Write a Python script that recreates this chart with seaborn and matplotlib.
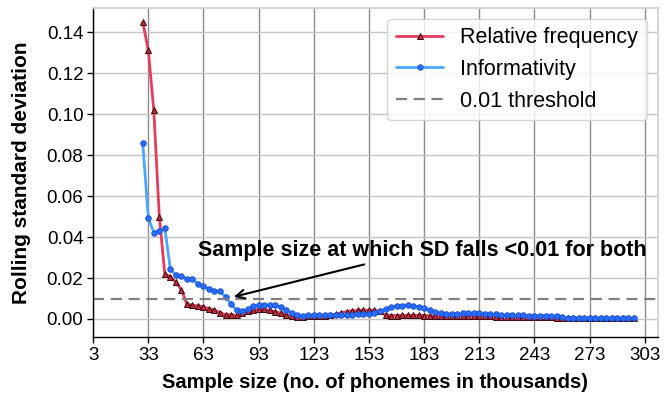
import matplotlib
matplotlib.use("Agg")
import matplotlib.pyplot as plt
import seaborn as sns
import numpy as np
import pandas as pd

sample_size = [30, 33, 36, 39, 42, 45, 48, 51, 54, 57, 60, 63, 66, 69, 72, 75, 78, 81, 84, 87,
               90, 93, 96, 99, 102, 105, 108, 111, 114, 117, 120, 123, 126, 129, 132, 135, 138, 141, 144, 147,
               150, 153, 156, 159, 162, 165, 168, 171, 174, 177, 180, 183, 186, 189, 192, 195, 198, 201, 204, 207,
               210, 213, 216, 219, 222, 225, 228, 231, 234, 237, 240, 243, 246, 249, 252, 255, 258, 261, 264, 267,
               270, 273, 276, 279, 282, 285, 288, 291, 294, 297]

rel_freq = [0.145, 0.1315, 0.102, 0.050, 0.022, 0.0207, 0.018, 0.0142, 0.0073, 0.0067,
            0.0064, 0.0060, 0.0050, 0.0044, 0.0031, 0.0021, 0.0021, 0.0018, 0.0028, 0.0037,
            0.0044, 0.0047, 0.0047, 0.0042, 0.0036, 0.0029, 0.0021, 0.0014, 0.0011, 0.0012,
            0.0013, 0.0014, 0.0014, 0.0015, 0.0018, 0.0024, 0.0030, 0.0036, 0.0040, 0.0042,
            0.0043, 0.0043, 0.0042, 0.0040, 0.0018, 0.0017, 0.0017, 0.0018, 0.0018, 0.0018,
            0.0018, 0.0017, 0.0016, 0.0016, 0.0015, 0.0015, 0.0015, 0.0016, 0.0017, 0.0017,
            0.0016, 0.0015, 0.0014, 0.0013, 0.0012, 0.0012, 0.0011, 0.0011, 0.0011, 0.0011,
            0.0011, 0.0011, 0.0010, 0.0010, 0.0009, 0.0007, 0.0005, 0.0004, 0.0004, 0.0004,
            0.0004, 0.0004, 0.0004, 0.0004, 0.0004, 0.0004, 0.0004, 0.0004, 0.0004, 0.0004]

informativity = [0.086, 0.0495, 0.0422, 0.043, 0.0443, 0.0244, 0.0214, 0.021, 0.0195, 0.0197,
                 0.0171, 0.0161, 0.0148, 0.0138, 0.0135, 0.0109, 0.0073, 0.0042, 0.0038, 0.0049,
                 0.0061, 0.0068, 0.0069, 0.0068, 0.0066, 0.0059, 0.0045, 0.0029, 0.0020, 0.0017,
                 0.0018, 0.0019, 0.0019, 0.0020, 0.0020, 0.0020, 0.0020, 0.0021, 0.0021, 0.0022,
                 0.0022, 0.0024, 0.0029, 0.0039, 0.0049, 0.0057, 0.0062, 0.0065, 0.0067, 0.0065,
                 0.0060, 0.0052, 0.0042, 0.0034, 0.0029, 0.0026, 0.0025, 0.0025, 0.0027, 0.0028,
                 0.0028, 0.0027, 0.0026, 0.0024, 0.0022, 0.0021, 0.0020, 0.0019, 0.0018, 0.0018,
                 0.0017, 0.0017, 0.0017, 0.0016, 0.0016, 0.0013, 0.0008, 0.0005, 0.0005, 0.0005,
                 0.0005, 0.0005, 0.0005, 0.0005, 0.0005, 0.0005, 0.0005, 0.0005, 0.0005, 0.0005]

threshold = 0.01
x_ticks = [3, 33, 63, 93, 123, 153, 183, 213, 243, 273, 303]
y_ticks = [0.00, 0.02, 0.04, 0.06, 0.08, 0.10, 0.12, 0.14]

assert len(sample_size) == len(rel_freq) == len(informativity)

df = pd.DataFrame({"x": sample_size, "rf": rel_freq, "inf": informativity})

sns.set_theme(style="whitegrid")
plt.rcParams["font.family"] = ["Liberation Sans", "DejaVu Sans"]
plt.rcParams["text.color"] = "black"
plt.rcParams["axes.labelcolor"] = "black"

fig = plt.figure(figsize=(6.65, 3.93), dpi=100)
ax = fig.add_axes([0.14, 0.1425, 0.849, 0.8375])

sns.lineplot(data=df, x="x", y="rf", ax=ax, color="#e23d5e", lw=2,
             marker="^", markersize=4.5, markerfacecolor="#c4283f",
             markeredgecolor="#3a0a0a", markeredgewidth=0.7,
             label="Relative frequency")
sns.lineplot(data=df, x="x", y="inf", ax=ax, color="#4aa6ff", lw=2,
             marker="o", markersize=4, markerfacecolor="#2a6cff",
             markeredgecolor="#1a50d0", markeredgewidth=0.6,
             label="Informativity")
ax.axhline(threshold, color="#808080", lw=1.6, ls=(0, (5, 3)), label="0.01 threshold")

ax.annotate("Sample size at which SD falls <0.01 for both",
            xy=(78, 0.0105), xytext=(182, 0.0337),
            ha="center", va="center", fontsize=15.5, fontweight="bold", color="black",
            arrowprops=dict(arrowstyle="->", color="black", lw=1.5))

ax.set_xlim(3, 310)
ax.set_ylim(-0.0088, 0.152)
ax.set_xticks(x_ticks)
ax.set_yticks(y_ticks)
ax.set_yticklabels([f"{v:.2f}" for v in y_ticks])
ax.tick_params(axis="both", labelsize=13.5, length=4, width=1, colors="black",
               direction="out", bottom=True, left=True, pad=3)

ax.grid(axis="y", color="#c4c4c4", lw=1.0)
ax.grid(axis="x", color="#8c8c8c", lw=1.0)
for s in ["left", "bottom"]:
    ax.spines[s].set_color("black")
    ax.spines[s].set_linewidth(1.0)
for s in ["top", "right"]:
    ax.spines[s].set_color("#d0d0d0")

ax.set_xlabel("Sample size (no. of phonemes in thousands)", fontsize=14.5,
              fontweight="bold", labelpad=7, color="black")
ax.set_ylabel("Rolling standard deviation", fontsize=15, fontweight="bold", labelpad=11,
              color="black")

leg = ax.legend(loc="upper right", fontsize=15.5, handlelength=2.2, frameon=True,
                borderpad=0.4, labelspacing=0.5, handletextpad=0.8, labelcolor="black")
leg.get_frame().set_edgecolor("#cccccc")

fig.savefig("out.png", dpi=100)
